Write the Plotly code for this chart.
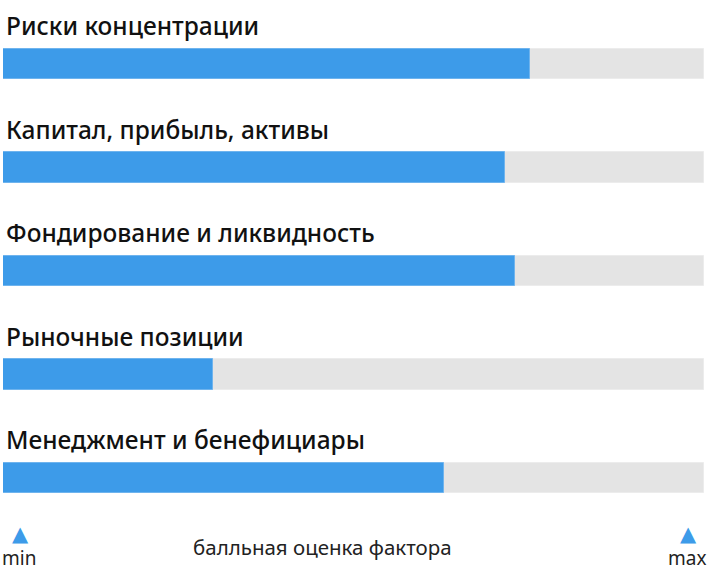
import plotly.graph_objects as go

categories = [
    "Риски концентрации",
    "Капитал, прибыль, активы",
    "Фондирование и ликвидность",
    "Рыночные позиции",
    "Менеджмент и бенефициары",
]
scores = [75.2, 71.6, 73.0, 29.9, 62.9]
max_score = [100, 100, 100, 100, 100]
axis_title = "балльная оценка фактора"
min_label = "min"
max_label = "max"

BLUE = "#3d9be9"
GRAY = "#e4e4e4"
FONT = "Noto Sans"

pos = list(range(len(categories)))

fig = go.Figure()
fig.add_trace(go.Bar(
    y=pos, x=max_score, orientation="h", width=0.29,
    marker=dict(color=GRAY, line=dict(color="#ececec", width=1)),
    hoverinfo="skip", showlegend=False,
))
fig.add_trace(go.Bar(
    y=pos, x=scores, orientation="h", width=0.29,
    marker=dict(color=BLUE, line=dict(color="#6fb4ee", width=1)),
    text=categories, hovertemplate="%{text}: %{x}<extra></extra>",
    textposition="none", showlegend=False,
))

annotations = []
for p, c in zip(pos, categories):
    annotations.append(dict(
        x=0, xref="paper", xanchor="left", xshift=1,
        y=p, yref="y", yanchor="middle", yshift=38.5,
        text=c, showarrow=False,
        font=dict(family=FONT, size=24.5, color="#111111", weight=500),
    ))

annotations += [
    dict(x=(20 - 3) / 701, xref="paper", xanchor="center",
         y=1 - 534 / 576, yref="paper", yanchor="middle",
         text="▲", showarrow=False, font=dict(family="DejaVu Sans", size=21, color=BLUE)),
    dict(x=(688 - 3) / 701, xref="paper", xanchor="center",
         y=1 - 534 / 576, yref="paper", yanchor="middle",
         text="▲", showarrow=False, font=dict(family="DejaVu Sans", size=21, color=BLUE)),
    dict(x=(19 - 3) / 701, xref="paper", xanchor="center",
         y=1 - 558 / 576, yref="paper", yanchor="middle",
         text=min_label, showarrow=False, font=dict(family=FONT, size=19, color="#222222")),
    dict(x=(687 - 3) / 701, xref="paper", xanchor="center",
         y=1 - 558 / 576, yref="paper", yanchor="middle",
         text=max_label, showarrow=False, font=dict(family=FONT, size=19, color="#222222")),
    dict(x=(322 - 3) / 701, xref="paper", xanchor="center",
         y=1 - 547 / 576, yref="paper", yanchor="middle",
         text=axis_title, showarrow=False, font=dict(family=FONT, size=20.5, color="#222222")),
]

fig.update_layout(
    width=707, height=576,
    margin=dict(l=3, r=3, t=0, b=0, pad=0),
    barmode="overlay",
    paper_bgcolor="white", plot_bgcolor="white",
    xaxis=dict(range=[0, 100], visible=False, fixedrange=True),
    yaxis=dict(range=[512 / 103.5, -64 / 103.5], visible=False, fixedrange=True),
    annotations=annotations,
    bargap=0,
)

fig.write_html(
    "out.html",
    config={"displayModeBar": False},
    post_script="document.body.style.margin='0';document.body.style.padding='0';",
)
